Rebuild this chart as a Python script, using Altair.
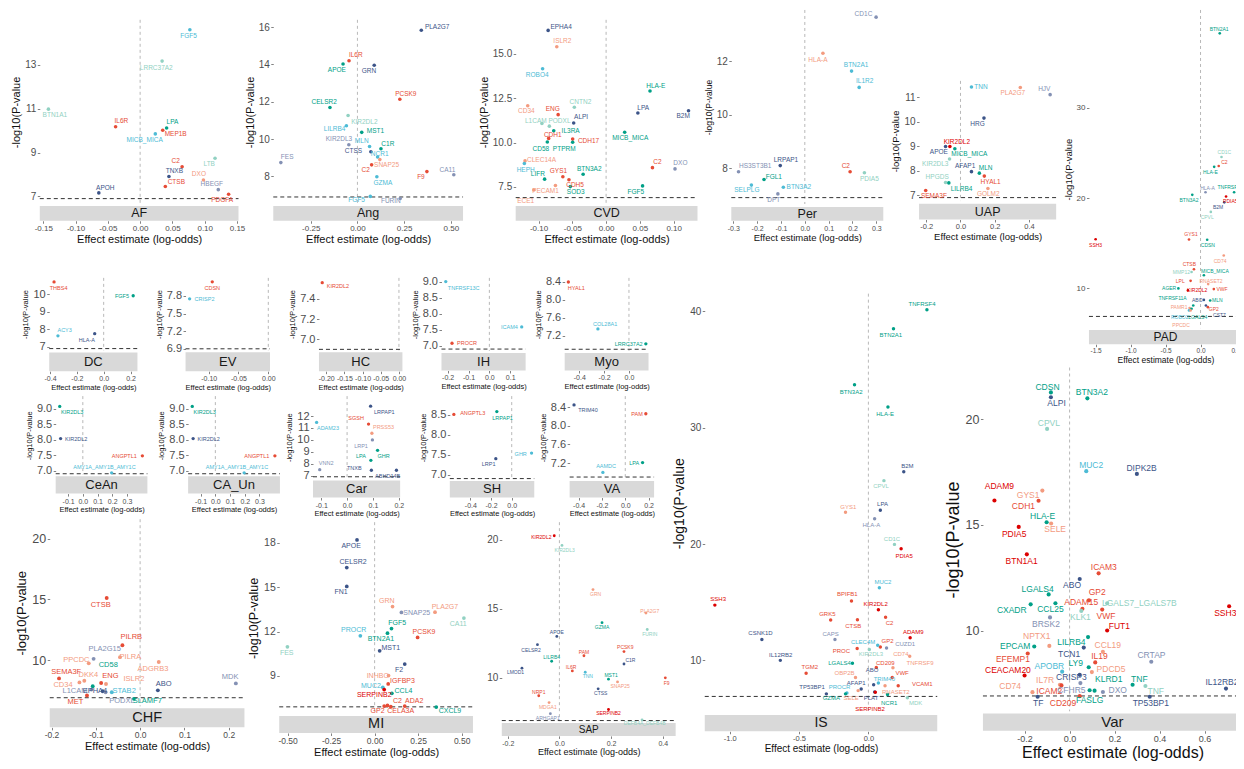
import altair as alt
import pandas as pd

# ---------------- data ----------------
# (gene, effect estimate, -log10 p, label x, label y, colour group)
AF = [
    ("FGF5", 0.077, 14.60, 0.075, 14.32, "b"),
    ("LRRC37A2", 0.034, 13.17, 0.025, 12.87, "g"),
    ("BTN1A1", -0.142, 10.98, -0.132, 10.71, "g"),
    ("IL6R", -0.038, 10.18, -0.029, 10.42, "r"),
    ("LPA", 0.041, 10.12, 0.050, 10.38, "t"),
    ("MEP1B", 0.035, 10.02, 0.055, 9.84, "r"),
    ("MICB_MICA", 0.0235, 9.85, 0.007, 9.58, "b"),
    ("C2", 0.065, 8.35, 0.055, 8.60, "r"),
    ("LTB", 0.116, 8.74, 0.107, 8.49, "g"),
    ("TNXB", 0.0446, 7.91, 0.053, 8.17, "n"),
    ("DXO", 0.098, 7.75, 0.091, 8.00, "s"),
    ("CTSB", 0.039, 7.45, 0.056, 7.64, "r"),
    ("HBEGF", 0.121, 7.31, 0.111, 7.57, "l"),
    ("PDGFA", 0.137, 7.10, 0.127, 6.85, "r"),
    ("APOH", -0.064, 7.16, -0.054, 7.39, "n"),
]
ANG = [
    ("PLA2G7", 0.342, 15.83, 0.427, 16.00, "n"),
    ("IL6R", -0.045, 14.19, -0.009, 14.51, "r"),
    ("APOE", -0.077, 14.02, -0.110, 13.68, "t"),
    ("GRN", 0.090, 13.95, 0.062, 13.63, "n"),
    ("PCSK9", 0.227, 12.13, 0.259, 12.43, "r"),
    ("CELSR2", -0.147, 11.69, -0.178, 12.00, "t"),
    ("KIR2DL2", -0.050, 11.26, 0.037, 10.94, "g"),
    ("LILRB4", -0.059, 10.71, -0.122, 10.53, "b"),
    ("MST1", 0.023, 10.36, 0.097, 10.41, "t"),
    ("KIR2DL3", -0.046, 9.70, -0.099, 9.99, "l"),
    ("MLN", 0.065, 9.60, 0.023, 9.88, "b"),
    ("C1R", 0.126, 9.48, 0.163, 9.76, "t"),
    ("CTSS", 0.072, 9.32, -0.021, 9.36, "n"),
    ("NCR1", 0.108, 9.04, 0.119, 9.22, "b"),
    ("FES", -0.410, 8.74, -0.376, 9.02, "l"),
    ("SNAP25", 0.120, 8.90, 0.156, 8.60, "s"),
    ("C2", 0.076, 8.62, 0.044, 8.32, "r"),
    ("GZMA", 0.104, 7.98, 0.136, 7.67, "b"),
    ("F9", 0.372, 8.26, 0.340, 7.95, "r"),
    ("CA11", 0.516, 8.09, 0.482, 8.37, "l"),
    ("FGF5", 0.069, 6.93, -0.004, 6.72, "b"),
    ("FURIN", 0.229, 6.82, 0.179, 6.70, "l"),
]
CVD = [
    ("EPHA4", -0.0858, 16.33, -0.0666, 16.52, "n"),
    ("ISLR2", -0.073, 15.41, -0.0647, 15.71, "s"),
    ("ROBO4", -0.094, 14.17, -0.102, 13.83, "b"),
    ("HLA-E", 0.065, 12.91, 0.0735, 13.19, "t"),
    ("CD34", -0.116, 12.08, -0.118, 11.76, "s"),
    ("CNTN2", -0.047, 12.00, -0.038, 12.32, "g"),
    ("ENG", -0.071, 11.58, -0.079, 11.89, "r"),
    ("LPA", 0.047, 11.67, 0.055, 11.98, "n"),
    ("B2M", 0.122, 11.80, 0.114, 11.50, "n"),
    ("ALPI", -0.048, 11.11, -0.037, 11.43, "n"),
    ("L1CAM", -0.095, 11.08, -0.104, 11.24, "g"),
    ("PODXL", -0.084, 10.93, -0.069, 11.22, "g"),
    ("IL3RA", -0.0775, 10.67, -0.0525, 10.67, "t"),
    ("MICB_MICA", 0.0275, 10.59, 0.0357, 10.26, "t"),
    ("CDH1", -0.085, 10.24, -0.079, 10.44, "r"),
    ("CDH17", -0.0495, 10.20, -0.026, 10.08, "r"),
    ("PTPRM", -0.0495, 10.02, -0.062, 9.63, "t"),
    ("CD58", -0.087, 10.04, -0.0966, 9.67, "t"),
    ("CLEC14A", -0.120, 8.97, -0.0956, 9.00, "s"),
    ("HEPH", -0.121, 8.82, -0.119, 8.47, "b"),
    ("LIFR", -0.091, 7.94, -0.101, 8.24, "t"),
    ("GYS1", -0.064, 8.08, -0.0706, 8.39, "r"),
    ("CDH5", -0.055, 7.91, -0.046, 7.61, "r"),
    ("BTN3A2", -0.034, 8.22, -0.025, 8.54, "t"),
    ("SOD3", -0.053, 7.52, -0.045, 7.19, "t"),
    ("PECAM1", -0.075, 7.58, -0.0897, 7.28, "s"),
    ("ECE1", -0.107, 7.33, -0.119, 6.71, "s"),
    ("C2", 0.0686, 8.59, 0.076, 8.91, "r"),
    ("DXO", 0.102, 8.52, 0.110, 8.86, "l"),
    ("FGF5", 0.054, 7.56, 0.044, 7.24, "t"),
]
PER = [
    ("CD1C", 0.299, 13.66, 0.246, 13.78, "l"),
    ("HLA-A", 0.076, 12.31, 0.055, 12.05, "s"),
    ("BTN2A1", 0.196, 11.64, 0.215, 11.86, "b"),
    ("IL1R2", 0.228, 11.03, 0.251, 11.27, "b"),
    ("HS3ST3B1", -0.278, 7.87, -0.208, 8.09, "l"),
    ("LRPAP1", -0.103, 8.10, -0.079, 8.31, "n"),
    ("FGL1", -0.171, 7.58, -0.130, 7.68, "t"),
    ("C2", 0.190, 7.87, 0.172, 8.09, "r"),
    ("PDIA5", 0.250, 7.83, 0.271, 7.58, "g"),
    ("SELPLG", -0.224, 7.37, -0.243, 7.17, "b"),
    ("BTN3A2", -0.090, 7.29, -0.025, 7.29, "b"),
    ("DPT", -0.113, 7.04, -0.130, 6.82, "l"),
]
UAP = [
    ("TNN", 0.064, 11.42, 0.119, 11.42, "b"),
    ("PLA2G7", 0.349, 11.40, 0.305, 11.18, "s"),
    ("HJV", 0.523, 11.11, 0.489, 11.35, "l"),
    ("HRG", 0.137, 10.15, 0.099, 9.91, "n"),
    ("KIR2DL2", -0.062, 8.99, -0.021, 9.19, "d"),
    ("APOE", -0.087, 8.99, -0.126, 8.76, "n"),
    ("MICB_MICA", -0.033, 8.90, 0.052, 8.67, "t"),
    ("KIR2DL3", -0.064, 8.48, -0.147, 8.29, "g"),
    ("AFAP1", 0.064, 7.96, 0.027, 8.18, "n"),
    ("MLN", 0.110, 7.90, 0.147, 8.10, "t"),
    ("HYAL1", 0.139, 7.78, 0.176, 7.55, "r"),
    ("HPGDS", -0.087, 7.52, -0.136, 7.73, "g"),
    ("LILRB4", -0.068, 7.50, 0.006, 7.24, "t"),
    ("GOLM2", 0.160, 7.27, 0.162, 7.04, "s"),
    ("SEMA3F", -0.203, 7.19, -0.155, 6.96, "r"),
]
PAD = [
    ("BTN2A1", 0.275, 38.24, 0.266, 38.72, "t"),
    ("CD1C", 0.300, 24.55, 0.341, 25.09, "g"),
    ("C2", 0.260, 23.56, 0.341, 24.03, "r"),
    ("HLA-E", 0.195, 23.46, 0.142, 22.94, "t"),
    ("TNFRSF4", 0.480, 20.65, 0.403, 21.20, "t"),
    ("HLA-A", 0.071, 20.65, 0.100, 21.12, "l"),
    ("BTN3A2", -0.118, 20.36, -0.165, 19.81, "t"),
    ("PDIA5", 0.365, 20.18, 0.426, 19.64, "d"),
    ("B2M", 0.340, 19.53, 0.251, 18.99, "n"),
    ("CPVL", 0.147, 18.47, 0.095, 17.93, "g"),
    ("GYS1", -0.165, 15.42, -0.136, 16.04, "r"),
    ("SSH3", -1.500, 15.45, -1.500, 14.84, "d"),
    ("CDSN", 0.095, 15.39, 0.105, 14.84, "t"),
    ("CD74", 0.332, 13.64, 0.280, 13.02, "s"),
    ("CTSB", -0.094, 12.12, -0.160, 12.66, "r"),
    ("MMP12", -0.128, 11.82, -0.274, 11.79, "g"),
    ("MICB_MICA", 0.048, 11.46, 0.205, 11.93, "t"),
    ("LPL", -0.142, 10.84, -0.290, 10.80, "r"),
    ("RNASET2", 0.109, 10.48, 0.150, 10.85, "s"),
    ("VWF", 0.190, 9.93, 0.308, 9.93, "r"),
    ("AGER", -0.317, 10.00, -0.449, 10.10, "t"),
    ("KIR2DL2", -0.180, 9.78, -0.047, 9.78, "d"),
    ("MLN", 0.138, 8.66, 0.241, 8.73, "t"),
    ("ABO", 0.048, 8.73, -0.047, 8.77, "n"),
    ("TNFRSF11A", -0.104, 8.11, -0.400, 8.91, "t"),
    ("GP2", 0.105, 7.93, 0.190, 7.75, "r"),
    ("PAMR1", -0.156, 7.82, -0.307, 7.93, "s"),
    ("CST7", 0.077, 8.11, 0.270, 7.02, "n"),
    ("ROBO2", -0.165, 7.57, -0.298, 6.84, "b"),
    ("LGALS4", -0.128, 7.75, -0.040, 6.84, "t"),
    ("PPCDC", -0.142, 7.57, -0.278, 5.93, "s"),
]
DC = [
    ("THBS4", -0.370, 10.71, -0.336, 10.35, "r"),
    ("FGF5", 0.220, 9.92, 0.136, 9.88, "t"),
    ("ACY3", -0.341, 7.63, -0.291, 7.94, "b"),
    ("HLA-A", -0.067, 7.75, -0.126, 7.38, "n"),
]
EV = [
    ("CDSN", -0.094, 8.04, -0.094, 7.94, "r"),
    ("CRISP2", -0.132, 7.75, -0.107, 7.75, "b"),
]
HC = [
    ("KIR2DL2", -0.211, 7.56, -0.168, 7.53, "r"),
]
IH = [
    ("TNFRSF13C", -0.209, 9.00, -0.123, 8.80, "b"),
    ("ICAM4", 0.155, 7.59, 0.096, 7.59, "b"),
    ("PROCR", -0.179, 7.08, -0.107, 7.08, "r"),
]
MYO = [
    ("HYAL1", -0.488, 8.39, -0.424, 8.26, "r"),
    ("COL28A1", -0.250, 7.35, -0.192, 7.46, "b"),
    ("LRRC37A2", 0.136, 7.02, -0.002, 7.02, "t"),
]
CEAN = [
    ("KIR2DL3", -0.157, 9.08, -0.072, 8.89, "t"),
    ("KIR2DL2", -0.151, 8.04, -0.045, 8.04, "n"),
    ("ANGPTL1", 0.405, 7.48, 0.282, 7.48, "r"),
    ("AMY1A_AMY1B_AMY1C", 0.196, 6.93, 0.147, 7.11, "b"),
]
CAUN = [
    ("KIR2DL3", -0.157, 9.08, -0.072, 8.89, "t"),
    ("KIR2DL2", -0.151, 8.04, -0.045, 8.04, "n"),
    ("ANGPTL1", 0.405, 7.48, 0.282, 7.48, "r"),
    ("AMY1A_AMY1B_AMY1C", 0.196, 6.93, 0.147, 7.11, "b"),
]
CAR = [
    ("LRPAP1", 0.091, 12.83, 0.144, 12.37, "n"),
    ("ADAM23", -0.118, 11.47, -0.074, 10.97, "b"),
    ("SGSH", 0.083, 11.33, 0.035, 11.87, "r"),
    ("PRSS53", 0.096, 10.56, 0.141, 11.12, "s"),
    ("LRP1", 0.098, 10.00, 0.054, 9.50, "l"),
    ("GHR", 0.118, 9.12, 0.141, 8.62, "t"),
    ("LPA", 0.092, 8.28, 0.054, 8.62, "t"),
    ("VNN2", -0.106, 7.50, -0.081, 8.06, "l"),
    ("TNXB", 0.094, 7.45, 0.028, 7.64, "n"),
    ("ABHD14B", 0.191, 7.45, 0.157, 6.95, "n"),
]
SH = [
    ("ANGPTL3", -0.560, 8.51, -0.378, 8.55, "r"),
    ("LRPAP1", -0.144, 8.58, -0.089, 8.42, "t"),
    ("GHR", 0.192, 7.54, 0.087, 7.52, "b"),
    ("LRP1", -0.154, 7.40, -0.224, 7.27, "n"),
]
VA = [
    ("TRIM40", -0.439, 8.45, -0.320, 8.33, "n"),
    ("PAM", 0.176, 8.26, 0.100, 8.26, "r"),
    ("LPA", 0.148, 7.21, 0.077, 7.21, "t"),
    ("AAMDC", -0.192, 7.00, -0.164, 7.13, "b"),
]
CHF = [
    ("CTSB", -0.0755, 15.11, -0.089, 14.54, "r"),
    ("PILRB", -0.040, 11.22, -0.020, 11.89, "r"),
    ("PLA2G15", -0.105, 10.10, -0.080, 10.92, "l"),
    ("PILRA", -0.0455, 10.24, -0.022, 10.24, "s"),
    ("PPCDC", -0.116, 9.73, -0.144, 10.00, "s"),
    ("ADGRB3", 0.042, 9.84, 0.029, 9.29, "s"),
    ("CD58", -0.107, 7.84, -0.072, 9.60, "t"),
    ("SEMA3F", -0.183, 8.49, -0.167, 9.00, "r"),
    ("DKK4", -0.126, 8.30, -0.117, 8.75, "s"),
    ("ENG", -0.088, 8.11, -0.067, 8.70, "r"),
    ("ISLR2", -0.077, 8.03, -0.014, 8.43, "s"),
    ("CD34", -0.137, 8.16, -0.174, 7.95, "s"),
    ("MDK", 0.216, 8.08, 0.203, 8.62, "l"),
    ("ABO", 0.040, 7.51, 0.053, 8.05, "n"),
    ("L1CAM", -0.110, 7.57, -0.147, 7.49, "l"),
    ("MET", -0.120, 7.08, -0.146, 6.54, "r"),
    ("EPHA4", -0.0845, 7.43, -0.102, 7.49, "n"),
    ("STAB2", -0.064, 7.35, -0.036, 7.49, "b"),
    ("PODXL", -0.078, 7.35, -0.041, 6.62, "l"),
    ("SLAMF7", -0.014, 6.81, 0.016, 6.62, "t"),
]
MI = [
    ("APOE", -0.101, 18.20, -0.135, 17.80, "n"),
    ("CELSR2", -0.160, 16.33, -0.124, 16.73, "n"),
    ("FN1", -0.160, 15.05, -0.193, 14.67, "n"),
    ("GRN", 0.103, 13.69, 0.070, 14.07, "s"),
    ("SNAP25", 0.154, 13.29, 0.242, 13.22, "l"),
    ("PLA2G7", 0.347, 13.31, 0.404, 13.67, "s"),
    ("CA11", 0.513, 12.91, 0.480, 12.51, "g"),
    ("FGF5", 0.097, 12.20, 0.130, 12.55, "t"),
    ("PROCR", -0.082, 11.71, -0.120, 12.13, "b"),
    ("BTN2A1", 0.074, 11.89, 0.036, 11.51, "t"),
    ("PCSK9", 0.247, 11.60, 0.284, 11.98, "r"),
    ("FES", -0.501, 10.96, -0.505, 10.55, "g"),
    ("MST1", 0.029, 10.69, 0.093, 10.85, "n"),
    ("F2", 0.173, 9.80, 0.141, 9.40, "n"),
    ("INHBC", 0.080, 9.02, 0.017, 9.02, "s"),
    ("IGFBP3", 0.078, 8.45, 0.160, 8.65, "r"),
    ("MUC2", 0.047, 8.22, -0.021, 8.33, "b"),
    ("SERPINB2", 0.055, 8.07, -0.002, 7.69, "d"),
    ("CCL4", 0.099, 7.82, 0.166, 7.95, "t"),
    ("C2", 0.074, 7.00, 0.131, 7.31, "r"),
    ("ADA2", 0.173, 6.95, 0.227, 7.33, "r"),
    ("GP2", 0.055, 6.95, 0.017, 6.65, "r"),
    ("CELA3A", 0.093, 6.91, 0.150, 6.65, "r"),
    ("CXCL9", 0.354, 6.89, 0.433, 6.62, "t"),
]
SAP = [
    ("KIR2DL2", -0.020, 20.30, -0.070, 20.20, "d"),
    ("KIR2DL3", 0.010, 19.60, 0.020, 19.30, "g"),
    ("GRN", 0.130, 16.40, 0.140, 16.10, "s"),
    ("PLA2G7", 0.335, 14.70, 0.350, 14.85, "s"),
    ("GZMA", 0.165, 14.00, 0.165, 13.70, "t"),
    ("FURIN", 0.340, 13.50, 0.350, 13.20, "g"),
    ("APOE", -0.010, 13.00, -0.010, 13.30, "n"),
    ("CELSR2", -0.085, 12.40, -0.110, 12.00, "n"),
    ("PCSK9", 0.250, 11.90, 0.255, 12.20, "r"),
    ("PAM", 0.095, 11.60, 0.095, 11.90, "r"),
    ("LILRB4", -0.030, 11.20, -0.030, 11.50, "t"),
    ("C1R", 0.250, 11.00, 0.275, 11.30, "n"),
    ("LMOD1", -0.145, 10.70, -0.170, 10.40, "n"),
    ("IL6R", 0.050, 10.50, 0.045, 10.80, "r"),
    ("TNN", 0.100, 10.40, 0.110, 10.10, "b"),
    ("MST1", 0.190, 9.90, 0.200, 10.20, "t"),
    ("F9", 0.410, 10.00, 0.415, 9.65, "r"),
    ("SNAP25", 0.225, 9.70, 0.235, 9.40, "s"),
    ("CTSS", 0.150, 9.20, 0.160, 8.90, "n"),
    ("NRP1", -0.080, 8.70, -0.080, 9.00, "r"),
    ("MDGA1", -0.040, 8.20, -0.045, 7.90, "s"),
    ("SERPINB2", 0.190, 7.70, 0.190, 7.45, "d"),
    ("ARHGAP1", -0.035, 7.40, -0.045, 7.10, "l"),
    ("DEFB4A_DEFB4B", 0.320, 6.95, 0.330, 6.70, "g"),
]
IS = [
    ("TNFRSF4", 0.422, 40.14, 0.387, 40.64, "t"),
    ("BTN2A1", 0.181, 38.50, 0.162, 37.93, "t"),
    ("BTN3A2", -0.100, 33.70, -0.124, 33.10, "t"),
    ("HLA-E", 0.141, 31.78, 0.120, 31.21, "t"),
    ("B2M", 0.255, 26.21, 0.281, 26.75, "n"),
    ("CPVL", 0.112, 25.45, 0.091, 25.00, "g"),
    ("GYS1", -0.165, 22.74, -0.145, 23.22, "s"),
    ("LPA", 0.086, 22.90, 0.102, 23.47, "n"),
    ("HLA-A", 0.045, 22.17, 0.021, 21.66, "l"),
    ("CD1C", 0.188, 19.97, 0.170, 20.47, "g"),
    ("PDIA5", 0.236, 19.60, 0.258, 19.01, "d"),
    ("MUC2", 0.079, 16.24, 0.105, 16.72, "b"),
    ("SSH3", -1.107, 14.75, -1.083, 15.25, "d"),
    ("BPIFB1", -0.122, 15.11, -0.152, 15.68, "r"),
    ("KIR2DL2", 0.072, 14.35, 0.052, 14.83, "d"),
    ("GRK5", -0.272, 13.47, -0.296, 13.98, "r"),
    ("C2", 0.124, 13.70, 0.152, 13.25, "r"),
    ("CTSB", -0.079, 13.50, -0.110, 12.99, "r"),
    ("ADAM9", 0.301, 11.95, 0.324, 12.42, "d"),
    ("CSNK1D", -0.768, 11.80, -0.778, 12.34, "n"),
    ("CAPS", -0.241, 11.80, -0.272, 12.29, "l"),
    ("GP2", 0.086, 11.15, 0.138, 11.66, "r"),
    ("CLEC4M", 0.067, 11.30, -0.038, 11.58, "b"),
    ("CUZD1", 0.131, 11.07, 0.265, 11.44, "l"),
    ("PROC", -0.081, 11.02, -0.195, 10.81, "r"),
    ("KIR2DL3", 0.007, 10.93, 0.019, 10.59, "g"),
    ("IL12RB2", -0.635, 10.00, -0.632, 10.47, "n"),
    ("CD74", 0.177, 9.37, 0.234, 10.59, "s"),
    ("TNFRSF9", 0.298, 10.36, 0.372, 9.80, "s"),
    ("CD209", 0.057, 9.38, 0.122, 9.80, "r"),
    ("LGALS4", -0.115, 9.75, -0.208, 9.75, "t"),
    ("TGM2", -0.449, 8.90, -0.422, 9.41, "r"),
    ("ABO", 0.038, 7.91, 0.026, 9.18, "n"),
    ("OBP2B", -0.093, 8.53, -0.172, 8.90, "s"),
    ("VWF", 0.172, 8.53, 0.243, 8.90, "r"),
    ("TRIM40", 0.072, 8.05, 0.115, 8.44, "b"),
    ("AFAP1", -0.052, 7.54, -0.088, 8.05, "n"),
    ("VCAM1", 0.215, 7.82, 0.389, 7.97, "r"),
    ("TP53BP1", -0.303, 7.12, -0.406, 7.71, "n"),
    ("PROCR", -0.155, 7.20, -0.208, 7.71, "b"),
    ("RNASET2", 0.120, 7.82, 0.198, 7.25, "s"),
    ("GZMA", -0.165, 7.12, -0.267, 6.75, "t"),
    ("SELE", -0.074, 7.40, -0.124, 6.75, "s"),
    ("PLAT", 0.045, 7.29, 0.019, 6.75, "n"),
    ("NCR1", 0.138, 7.06, 0.150, 6.30, "t"),
    ("MDK", 0.281, 6.78, 0.341, 6.36, "g"),
    ("SERPINB2", 0.050, 7.25, 0.012, 5.85, "d"),
]
VAR = [
    ("CDSN", -0.083, 21.28, -0.098, 21.54, "t"),
    ("ALPI", -0.083, 21.05, -0.058, 20.77, "n"),
    ("BTN3A2", 0.079, 21.00, 0.099, 21.28, "t"),
    ("CPVL", -0.100, 19.55, -0.092, 19.83, "g"),
    ("MUC2", 0.074, 17.55, 0.096, 17.83, "b"),
    ("DIPK2B", 0.299, 17.42, 0.320, 17.69, "n"),
    ("ADAM9", -0.334, 16.16, -0.312, 16.87, "d"),
    ("GYS1", -0.121, 16.63, -0.184, 16.41, "s"),
    ("CDH1", -0.138, 16.15, -0.205, 15.88, "r"),
    ("HLA-E", -0.102, 15.13, -0.120, 15.41, "t"),
    ("SELE", -0.082, 15.07, -0.064, 14.79, "s"),
    ("PDIA5", -0.226, 14.91, -0.246, 14.59, "d"),
    ("BTN1A1", -0.190, 13.61, -0.213, 13.27, "d"),
    ("ICAM3", 0.129, 12.71, 0.152, 12.99, "r"),
    ("ABO", 0.045, 12.44, 0.011, 12.15, "n"),
    ("LGALS4", -0.093, 11.71, -0.142, 11.97, "t"),
    ("GP2", 0.086, 11.43, 0.123, 11.83, "r"),
    ("CXADR", -0.173, 11.24, -0.257, 10.97, "t"),
    ("CCL25", -0.063, 11.29, -0.085, 11.01, "t"),
    ("ADAM15", 0.057, 11.03, 0.052, 11.35, "r"),
    ("LGALS7_LGALS7B", 0.167, 11.29, 0.310, 11.32, "g"),
    ("VWF", 0.145, 10.99, 0.162, 10.67, "r"),
    ("KLK1", 0.052, 10.93, 0.048, 10.62, "g"),
    ("SSH3", 0.709, 11.15, 0.692, 10.85, "d"),
    ("BRSK2", -0.087, 10.62, -0.105, 10.31, "l"),
    ("FUT1", 0.167, 10.00, 0.221, 10.20, "d"),
    ("LILRB4", 0.082, 9.69, 0.008, 9.45, "t"),
    ("NPTX1", -0.090, 9.27, -0.146, 9.72, "s"),
    ("EPCAM", -0.157, 9.24, -0.242, 9.25, "t"),
    ("TCN1", 0.063, 9.19, -0.002, 8.91, "n"),
    ("CCL19", 0.148, 8.99, 0.170, 9.30, "s"),
    ("EFEMP1", -0.186, 8.91, -0.252, 8.66, "r"),
    ("IL19", 0.114, 8.49, 0.133, 8.79, "r"),
    ("CRTAP", 0.363, 8.52, 0.364, 8.82, "l"),
    ("LY9", 0.085, 8.26, 0.027, 8.45, "t"),
    ("PDCD5", 0.099, 8.03, 0.184, 8.19, "s"),
    ("APOBR", -0.033, 8.05, -0.090, 8.33, "b"),
    ("CEACAM20", -0.200, 7.87, -0.274, 8.13, "d"),
    ("CRISP3", 0.045, 7.90, 0.008, 7.79, "n"),
    ("KLRD1", 0.111, 7.15, 0.174, 7.71, "t"),
    ("TNF", 0.280, 7.43, 0.310, 7.71, "t"),
    ("TNF", 0.337, 7.37, 0.383, 7.12, "g"),
    ("IL7R", -0.043, 7.43, -0.109, 7.67, "s"),
    ("CD74", -0.165, 7.08, -0.264, 7.35, "s"),
    ("ICAM2", -0.036, 7.40, -0.090, 7.15, "r"),
    ("CFHR5", 0.048, 7.51, 0.008, 7.20, "l"),
    ("DXO", 0.148, 7.09, 0.214, 7.17, "l"),
    ("IL12RB2", 0.695, 7.25, 0.677, 7.54, "n"),
    ("FASLG", 0.089, 7.17, 0.089, 6.73, "t"),
    ("TF", -0.142, 6.86, -0.139, 6.58, "n"),
    ("CD209", 0.045, 6.89, -0.029, 6.58, "r"),
    ("TP53BP1", 0.356, 6.86, 0.361, 6.58, "n"),
]
THRESHOLD = 6.9

# ---------------- layout and style ----------------
W, H = 1228, 753
SX, SY = 1228 / 1236, 0.985      # reference picture pixels -> view pixels
FONT = "Liberation Sans"
COLORS = {"r": "#E64B35", "s": "#F39B7F", "t": "#00A087", "b": "#4DBBD5",
          "n": "#3C5488", "l": "#8491B4", "g": "#91D1C2", "d": "#DC0000"}

STYLES = {
    "big": dict(lab=6.5, xt=8, yt=10, xti=11, yti=11, st=12.5, pt=13),
    "per": dict(lab=6.5, xt=7, yt=10, xti=9.5, yti=8.5, st=12.5, pt=13),
    "uap": dict(lab=6.5, xt=7.5, yt=10, xti=9.5, yti=9.5, st=12.5, pt=13),
    "pad": dict(lab=5, xt=6.5, yt=8, xti=8.5, yti=9.5, st=12, pt=7),
    "sm": dict(lab=5.5, xt=7, yt=11, xti=7.5, yti=7.5, st=13, pt=11),
    "chf": dict(lab=7.5, xt=8.5, yt=12.5, xti=11, yti=13, st=14.5, pt=15),
    "mi": dict(lab=7, xt=8.5, yt=10.5, xti=11, yti=12.5, st=14.5, pt=14),
    "sap": dict(lab=5, xt=7, yt=10, xti=9, yti=0, st=10, pt=8),
    "is": dict(lab=6, xt=7.5, yt=10, xti=10, yti=14, st=14, pt=12),
    "var": dict(lab=8.5, xt=9, yt=12.5, xti=16, yti=18, st=15, pt=17),
}

# xcal / ycal: two axis values and their pixel positions in the reference; box: plot area L,R,T,B
LAYOUT = [
    dict(name="AF", rows=AF, xcal=(0, 141, 0.15, 238.5), ycal=(7, 199.3, 13, 65.7),
         box=(40, 240, 20, 207), strip=(209, 224), xt=[-0.15, -0.1, -0.05, 0, 0.05, 0.1, 0.15], xf=".2f",
         yt=[7, 9, 11, 13], yf="d", sty="big"),
    dict(name="Ang", rows=ANG, xcal=(0, 359.7, 0.25, 406.7), ycal=(8, 179, 16, 27.3),
         box=(275, 466, 20, 207), strip=(209, 224), xt=[-0.25, 0, 0.25, 0.5], xf=".2f",
         yt=[8, 10, 12, 14, 16], yf="d", sty="big"),
    dict(name="CVD", rows=CVD, xcal=(0, 610, 0.1, 678), ycal=(7.5, 189.7, 15, 54.7),
         box=(519, 702, 20, 207), strip=(209, 224), xt=[-0.1, -0.05, 0, 0.05, 0.1], xf=".2f",
         yt=[7.5, 10, 12.5, 15], yf=".1f", sty="big"),
    dict(name="Per", rows=PER, xcal=(0, 810, 0.1, 834), ycal=(8, 170.7, 12, 62.3),
         box=(736, 889, 10, 207), strip=(210, 224), xt=[-0.3, -0.2, -0.1, 0, 0.1, 0.2, 0.3], xf=".1f",
         yt=[8, 10, 12], yf="d", sty="per"),
    dict(name="UAP", rows=UAP, xcal=(0, 966.7, 0.2, 1001.2), ycal=(7, 198, 11, 98.7),
         box=(925, 1063, 82, 204), strip=(206.7, 222.7), xt=[-0.2, 0, 0.2, 0.4], xf=".1f",
         yt=[7, 8, 9, 10, 11], yf="d", sty="uap"),
    dict(name="PAD", rows=PAD, xcal=(0, 1208.3, -1.5, 1102.7), ycal=(10, 292.7, 30, 109.3),
         box=(1096, 1250, 10, 333), strip=(335, 349.3), xt=[-1.5, -1, -0.5, 0, 0.5], xf=".1f",
         yt=[10, 20, 30], yf="d", sty="pad"),
    dict(name="DC", rows=DC, xcal=(0, 104.3, 0.2, 131.3), ycal=(7, 352, 10, 298.7),
         box=(49.5, 138.3, 282, 355.5), strip=(357.7, 376.7), xt=[-0.4, -0.2, 0, 0.2], xf=".1f",
         yt=[7, 8, 9, 10], yf="d", sty="sm"),
    dict(name="EV", rows=EV, xcal=(0, 270, -0.1, 210), ycal=(6.9, 354, 7.8, 300.3),
         box=(186.7, 271.7, 282, 355.5), strip=(357.5, 376.7), xt=[-0.1, -0.05, 0], xf=".2f",
         yt=[6.9, 7.2, 7.5, 7.8], yf=".1f", sty="sm"),
    dict(name="HC", rows=HC, xcal=(0, 401.5, -0.2, 328.3), ycal=(7, 344.3, 7.4, 303.3),
         box=(321, 405, 282, 355.5), strip=(357.5, 376.7), xt=[-0.2, -0.15, -0.1, -0.05, 0], xf=".2f",
         yt=[7.0, 7.2, 7.4], yf=".1f", sty="sm"),
    dict(name="IH", rows=IH, xcal=(0, 492.5, 0.1, 513.5), ycal=(7, 351, 9, 285.7),
         box=(444.3, 529, 282, 356), strip=(358.3, 376), xt=[-0.2, -0.1, 0, 0.1], xf=".1f",
         yt=[7, 7.5, 8, 8.5, 9], yf=".1f", sty="sm"),
    dict(name="Myo", rows=MYO, xcal=(0, 633, -0.4, 583), ycal=(7.2, 340.7, 8.4, 285.7),
         box=(568.3, 652.7, 282, 356), strip=(358.3, 376), xt=[-0.4, -0.2, 0], xf=".1f",
         yt=[7.2, 7.6, 8.0, 8.4], yf=".1f", sty="sm"),
    dict(name="CeAn", rows=CEAN, xcal=(0, 83.3, 0.3, 127.7), ycal=(7, 477.7, 9, 415),
         box=(56, 148.3, 402, 481.5), strip=(483.3, 501), xt=[-0.1, 0, 0.1, 0.2, 0.3], xf=".1f",
         yt=[7, 7.5, 8, 8.5, 9], yf=".1f", sty="sm"),
    dict(name="CA_Un", rows=CAUN, xcal=(0, 216.7, 0.3, 261.1), ycal=(7, 477.7, 9, 415),
         box=(189.3, 281.7, 402, 481.5), strip=(483.3, 501), xt=[-0.1, 0, 0.1, 0.2, 0.3], xf=".1f",
         yt=[7, 7.5, 8, 8.5, 9], yf=".1f", sty="sm"),
    dict(name="Car", rows=CAR, xcal=(0, 349.3, 0.1, 375.3), ycal=(7, 482.7, 12, 422.3),
         box=(315, 402.7, 402, 485.5), strip=(487.7, 505), xt=[-0.1, 0, 0.1, 0.2], xf=".1f",
         yt=[7, 8, 9, 10, 11, 12], yf="d", sty="sm"),
    dict(name="SH", rows=SH, xcal=(0, 515, -0.4, 473.4), ycal=(7, 481.7, 8.5, 421),
         box=(452.7, 537.7, 402, 486), strip=(488.3, 505), xt=[-0.4, -0.2, 0], xf=".1f",
         yt=[7, 7.5, 8, 8.5], yf=".1f", sty="sm"),
    dict(name="VA", rows=VA, xcal=(0, 629.3, 0.2, 652.8), ycal=(7.2, 470, 8.4, 413.3),
         box=(573.3, 658.3, 402, 486), strip=(488.3, 505), xt=[-0.4, -0.2, 0, 0.2], xf=".1f",
         yt=[7.2, 7.6, 8.0, 8.4], yf=".1f", sty="sm"),
    dict(name="CHF", rows=CHF, xcal=(0, 141, 0.1, 185.6), ycal=(10, 670, 20, 546.7),
         box=(50, 246, 527, 717), strip=(719, 738.3), xt=[-0.2, -0.1, 0, 0.1, 0.2], xf=".1f",
         yt=[10, 15, 20], yf="d", sty="chf"),
    dict(name="MI", rows=MI, xcal=(0, 377, 0.25, 420.8), ycal=(9, 686, 18, 551),
         box=(281, 476, 530, 724.5), strip=(726.7, 744), xt=[-0.5, -0.25, 0, 0.25, 0.5], xf=".2f",
         yt=[9, 12, 15, 18], yf="d", sty="mi"),
    dict(name="SAP", rows=SAP, xcal=(0, 563, 0.2, 615), ycal=(10, 688, 20, 548),
         box=(505, 680, 530, 732), strip=(734, 747), xt=[-0.2, 0, 0.2, 0.4], xf=".1f",
         yt=[10, 15, 20], yf="d", sty="sap"),
    dict(name="IS", rows=IS, xcal=(0, 874, -0.5, 804.2), ycal=(10, 670.3, 40, 316),
         box=(709.3, 943.3, 298, 723.5), strip=(725.7, 742.3), xt=[-1, -0.5, 0], xf=".1f",
         yt=[10, 20, 30, 40], yf="d", sty="is"),
    dict(name="Var", rows=VAR, xcal=(0, 1076.5, 0.2, 1121.8), ycal=(10, 640, 20, 425.7),
         box=(989.3, 1250, 373, 722), strip=(724.3, 741.7), xt=[-0.2, 0, 0.2, 0.4, 0.6], xf=".1f",
         yt=[10, 15, 20], yf="d", sty="var"),
]

COLOR_ENC = alt.Color("grp:N", scale=alt.Scale(domain=list(COLORS), range=list(COLORS.values())),
                      legend=None)


def vx(px):
    return (px - 8) * SX


def vy(py):
    return (py - 8) * SY


def fmt_expr(f):
    return "replace(format(datum.value,'" + f + "'),'\u2212','-')"


def build_panel(p):
    st = STYLES[p["sty"]]
    df = pd.DataFrame(p["rows"], columns=["gene", "x", "y", "lx", "ly", "grp"])
    v0, p0, v1, p1 = p["xcal"]
    kx = (p1 - p0) / (v1 - v0)
    u0, q0, u1, q1 = p["ycal"]
    ky = (q1 - q0) / (u1 - u0)
    L, R, T, B = p["box"]
    sT, sB = p["strip"]
    xdom = [v0 + (L - p0) / kx, v0 + (R - p0) / kx]
    ydom = [u0 + (B - q0) / ky, u0 + (T - q0) / ky]
    xs = alt.Scale(domain=xdom, range=[vx(L), vx(R)], nice=False, zero=False)
    ys = alt.Scale(domain=ydom, range=[vy(B), vy(T)], nice=False, zero=False)
    common = dict(grid=False, domain=False, ticks=True, tickSize=2.5, tickWidth=0.7,
                  tickColor="#4D4D4D", labelColor="#4D4D4D", titleColor="#111111",
                  labelFont=FONT, titleFont=FONT, titleFontWeight="normal",
                  labelOverlap=False, labelFlush=False)
    xa = alt.Axis(orient="bottom", offset=vy(sB) - H, values=p["xt"], labelExpr=fmt_expr(p["xf"]),
                  title="Effect estimate (log-odds)", labelFontSize=st["xt"],
                  titleFontSize=st["xti"], labelPadding=1, titlePadding=1.5, **common)
    ya = alt.Axis(orient="left", offset=-vx(L), values=p["yt"], labelExpr=fmt_expr(p["yf"]),
                  title="-log10(P-value" if st["yti"] else "", labelFontSize=st["yt"],
                  titleFontSize=st["yti"] if st["yti"] else 10, labelPadding=1.5,
                  titlePadding=3, **common)

    one = pd.DataFrame({"k": [0]})
    strip = alt.Chart(one).mark_rect(color="#D9D9D9").encode(
        x=alt.value(vx(L)), x2=alt.value(vx(R)), y=alt.value(vy(sT)), y2=alt.value(vy(sB)))
    stext = alt.Chart(one).mark_text(fontSize=st["st"], font=FONT, color="#1A1A1A").encode(
        x=alt.value((vx(L) + vx(R)) / 2), y=alt.value((vy(sT) + vy(sB)) / 2), text=alt.value(p["name"]))
    vline = alt.Chart(one).mark_rule(strokeDash=[3, 3], color="#A6A6A6", strokeWidth=0.8).encode(
        x=alt.XDatum(0, type="quantitative", scale=xs, axis=xa),
        y=alt.value(vy(T)), y2=alt.value(vy(B)))
    hline = alt.Chart(one).mark_rule(strokeDash=[4, 3], color="#333333", strokeWidth=1).encode(
        y=alt.YDatum(THRESHOLD, type="quantitative", scale=ys, axis=ya),
        x=alt.value(vx(L)), x2=alt.value(vx(R)))
    base = alt.Chart(df)
    pts = base.mark_circle(size=st["pt"], opacity=1).encode(
        x=alt.X("x:Q", scale=xs, axis=xa), y=alt.Y("y:Q", scale=ys, axis=ya), color=COLOR_ENC)
    txt = base.mark_text(fontSize=st["lab"], font=FONT).encode(
        x=alt.X("lx:Q", scale=xs, axis=xa), y=alt.Y("ly:Q", scale=ys, axis=ya),
        text="gene:N", color=COLOR_ENC)
    return alt.layer(strip, stext, vline, hline, pts, txt)


chart = (
    alt.layer(*[build_panel(p) for p in LAYOUT])
    .resolve_scale(x="independent", y="independent")
    .resolve_axis(x="independent", y="independent")
    .properties(width=W, height=H, padding=0, background="white",
                autosize=alt.AutoSizeParams(type="none"))
    .configure_view(stroke=None)
)

chart.save("out.html", embed_options={"renderer": "svg", "actions": False})
